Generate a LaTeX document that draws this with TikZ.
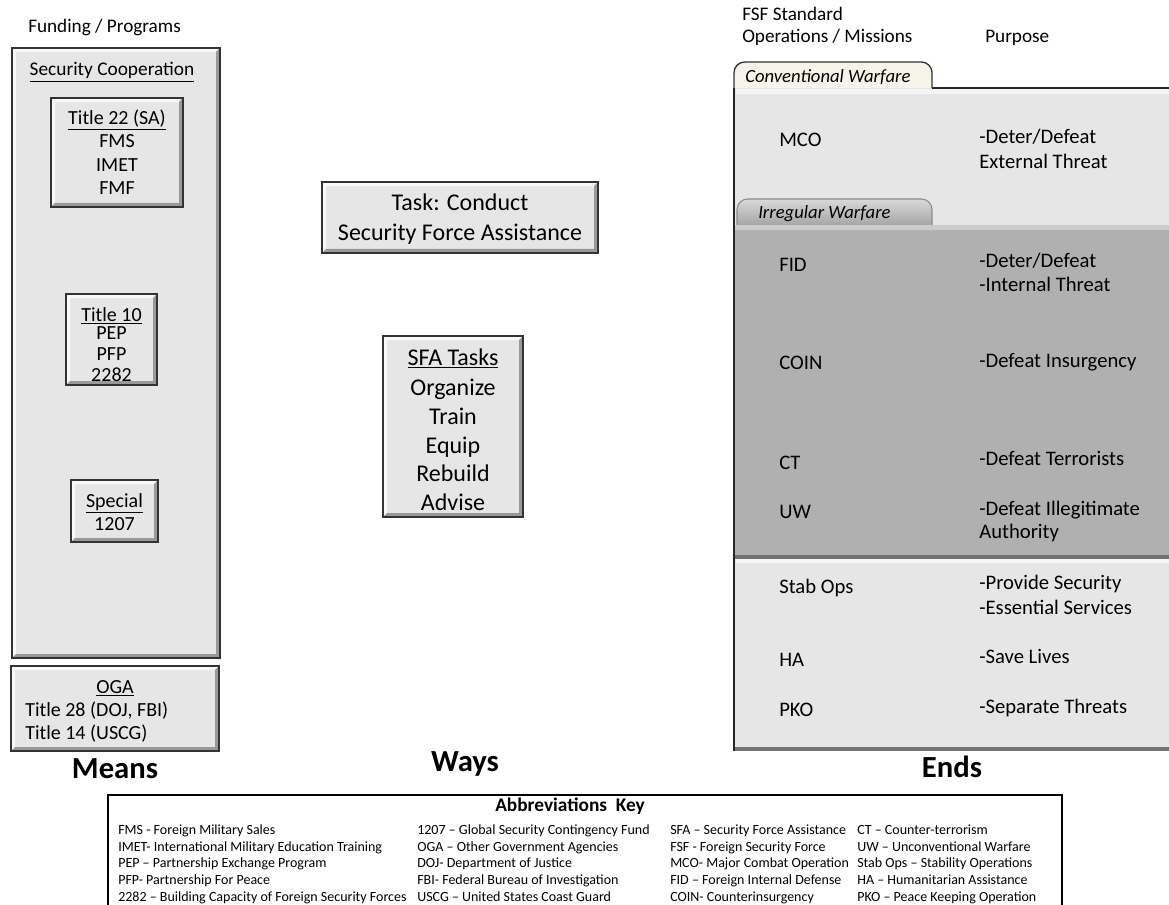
\documentclass[tikz,border=0pt]{standalone}
\usepackage{fontspec}
\setmainfont{Carlito}
\usetikzlibrary{fit}
\definecolor{boxgray}{HTML}{E6E6E6}
\definecolor{bandgray}{HTML}{B0B0B0}
\definecolor{tabcream}{HTML}{F6F4E8}
\begin{document}
\begin{tikzpicture}[x=0.75pt,y=-0.75pt,
  bevel/.style={fill=boxgray, draw=black!80, line width=1.3pt, inner sep=0pt,
    path picture={
      \fill[white!70!boxgray] (path picture bounding box.north west) -- (path picture bounding box.north east)
        -- ([xshift=-3pt,yshift=-3pt]path picture bounding box.north east) -- ([xshift=3pt,yshift=-3pt]path picture bounding box.north west)
        -- ([xshift=3pt,yshift=3pt]path picture bounding box.south west) -- (path picture bounding box.south west) -- cycle;
      \fill[black!40] (path picture bounding box.south east) -- (path picture bounding box.south west)
        -- ([xshift=3pt,yshift=3pt]path picture bounding box.south west) -- ([xshift=-3pt,yshift=3pt]path picture bounding box.south east)
        -- ([xshift=-3pt,yshift=-3pt]path picture bounding box.north east) -- (path picture bounding box.north east) -- cycle;
    }},
  boxtxt/.style={font=\fontsize{15}{17}\selectfont, inner sep=0pt, anchor=base},
  bigtxt/.style={font=\fontsize{18}{21.5}\selectfont, inner sep=0pt, anchor=base},
  hdr/.style={font=\fontsize{14.4}{17}\selectfont, inner sep=0pt, anchor=base west},
  ptxt/.style={font=\fontsize{15.5}{18}\selectfont, inner sep=0pt, anchor=base west},
  abbr/.style={font=\fontsize{10.5}{12.5}\selectfont, inner sep=0pt, anchor=base west},
  bigbold/.style={font=\bfseries\fontsize{23}{27}\selectfont, inner sep=0pt, anchor=base},
  tabtxt/.style={font=\itshape\fontsize{14}{16}\selectfont, inner sep=0pt, anchor=base west}
]
\useasboundingbox (0,0) rectangle (1169,905);
\begin{scope}
\clip (0,0) rectangle (1169,905);

% ---------------- Means ----------------
\node[hdr] (fundhdr) at (28,33) {Funding / Programs};
\node[bevel, fit={(12,48) (220,658)}] (seccoop) {};
\node[font=\fontsize{14.5}{17}\selectfont, inner sep=0pt, anchor=base] (seccooptxt) at (112,76) {\underline{Security Cooperation}};

\node[bevel, fit={(51,98) (183,207)}] (t22) {};
\node[boxtxt] (t22h) at (117,124.5) {\underline{Title 22 (SA)}};
\foreach \t [count=\i] in {FMS, IMET, FMF}
  \node[boxtxt] (t22l\i) at (117,{148+23.5*(\i-1)}) {\t};

\node[bevel, fit={(66,294) (157,385)}] (t10) {};
\node[boxtxt] (t10h) at (111.5,321) {\underline{Title 10}};
\node[boxtxt] (t10l1) at (111.5,339) {PEP};
\node[boxtxt] (t10l2) at (111.5,360) {PFP};
\node[boxtxt] (t10l3) at (111.5,381) {2282};

\node[bevel, fit={(71,480) (158,542)}] (special) {};
\node[boxtxt] (spech) at (114.5,507.5) {\underline{Special}};
\node[boxtxt] (specl) at (114.5,530.5) {1207};

\node[bevel, fit={(11,666) (219,751)}] (oga) {};
\node[boxtxt] (ogahead) at (115,693.5) {\underline{OGA}};
\node[boxtxt, anchor=base west] (oga28) at (25,716.5) {Title 28 (DOJ, FBI)};
\node[boxtxt, anchor=base west] (oga14) at (25,739.5) {Title 14 (USCG)};
\node[bigbold] (means) at (115,778) {Means};

% ---------------- Ways ----------------
\node[bevel, fit={(322,182) (598,253)}] (task) {};
\node[bigtxt] (task1) at (460,210.5) {Task: Conduct};
\node[bigtxt] (task2) at (460,240.5) {Security Force Assistance};

\node[bevel, fit={(383,336) (523,517)}] (sfa) {};
\node[bigtxt] (sfah) at (453,365.5) {\underline{SFA Tasks}};
\foreach \t [count=\i] in {Organize, Train, Equip, Rebuild, Advise}
  \node[bigtxt] (sfal\i) at (453,{395.5+28.8*(\i-1)}) {\t};
\node[bigbold] (ways) at (465,771) {Ways};

% ---------------- Ends ----------------
\node[hdr] (fsfhdr1) at (742,21) {FSF Standard};
\node[hdr] (fsfhdr2) at (742,43) {Operations / Missions};
\node[hdr] (purpose) at (985,43) {Purpose};

\fill[boxgray] (734,88) rectangle (1172,751);
\fill[white!60!boxgray] (736,89) rectangle (1172,94);
\fill[bandgray] (734,225) rectangle (1172,557);
\fill[black!20] (734,225) rectangle (1172,230);
\fill[black!30] (734,230) rectangle (1172,231.5);
\fill[black!55] (734,555) rectangle (1172,559);
\fill[white!60!boxgray] (736,559) rectangle (1172,563);
\fill[black!55] (734,747) rectangle (1172,751);
\draw[black!85, line width=1.5pt] (734,88) -- (734,751);
\draw[black!85, line width=1pt] (932,88) -- (1172,88);
\draw[fill=tabcream, draw=black!80, line width=1pt, rounded corners=8pt] (734,88) -- (734,62) -- (932,62) -- (932,88);
\draw[top color=black!15, bottom color=black!35, draw=black!45, line width=0.8pt, rounded corners=8pt] (737,225) -- (737,199) -- (932,199) -- (932,225);
\node[tabtxt] (convtab) at (745,83) {Conventional Warfare};
\node[tabtxt] (irrtab) at (758,219) {Irregular Warfare};

\node[ptxt] (mco) at (779,146.5) {MCO};
\node[ptxt] (mcop1) at (979,143.5) {-Deter/Defeat};
\node[ptxt] (mcop2) at (979,168.5) {External Threat};
\node[ptxt] (fid) at (779,271.5) {FID};
\node[ptxt] (fidp1) at (979,267.5) {-Deter/Defeat};
\node[ptxt] (fidp2) at (979,291.5) {-Internal Threat};
\node[ptxt] (coin) at (779,369.5) {COIN};
\node[ptxt] (coinp) at (979,367.5) {-Defeat Insurgency};
\node[ptxt] (ct) at (779,469.5) {CT};
\node[ptxt] (ctp) at (979,465.5) {-Defeat Terrorists};
\node[ptxt] (uw) at (779,518.5) {UW};
\node[ptxt] (uwp1) at (979,515.5) {-Defeat Illegitimate};
\node[ptxt] (uwp2) at (979,538.5) {Authority};
\node[ptxt] (stab) at (779,593.5) {Stab Ops};
\node[ptxt] (stabp1) at (979,589.5) {-Provide Security};
\node[ptxt] (stabp2) at (979,614.5) {-Essential Services};
\node[ptxt] (ha) at (779,666.5) {HA};
\node[ptxt] (hap) at (979,663.5) {-Save Lives};
\node[ptxt] (pko) at (779,716.5) {PKO};
\node[ptxt] (pkop) at (979,713.5) {-Separate Threats};
\node[bigbold] (ends) at (952,777) {Ends};

% ---------------- Abbreviations key ----------------
\draw[black, line width=2.2pt, fill=white] (108,795) rectangle (1062,920);
\node[font=\bfseries\fontsize{14.5}{17}\selectfont, inner sep=0pt, anchor=base] (keyhead) at (570,811) {Abbreviations\ \ Key};
\foreach \t [count=\i] in {FMS - Foreign Military Sales, IMET- International Military Education Training, PEP – Partnership Exchange Program, PFP- Partnership For Peace, 2282 – Building Capacity of Foreign Security Forces}
  \node[abbr] (ka\i) at (118,{834.5+16.7*(\i-1)}) {\t};
\foreach \t [count=\i] in {1207 – Global Security Contingency Fund, OGA – Other Government Agencies, DOJ- Department of Justice, FBI- Federal Bureau of Investigation, USCG – United States Coast Guard}
  \node[abbr] (kb\i) at (417,{834.5+16.7*(\i-1)}) {\t};
\foreach \t [count=\i] in {SFA – Security Force Assistance, FSF - Foreign Security Force, MCO- Major Combat Operation, FID – Foreign Internal Defense, COIN- Counterinsurgency}
  \node[abbr] (kc\i) at (670,{834.5+16.7*(\i-1)}) {\t};
\foreach \t [count=\i] in {CT – Counter-terrorism, UW – Unconventional Warfare, Stab Ops – Stability Operations, HA – Humanitarian Assistance, PKO – Peace Keeping Operation}
  \node[abbr] (kd\i) at (857,{834.5+16.7*(\i-1)}) {\t};
\end{scope}
\end{tikzpicture}
\end{document}
